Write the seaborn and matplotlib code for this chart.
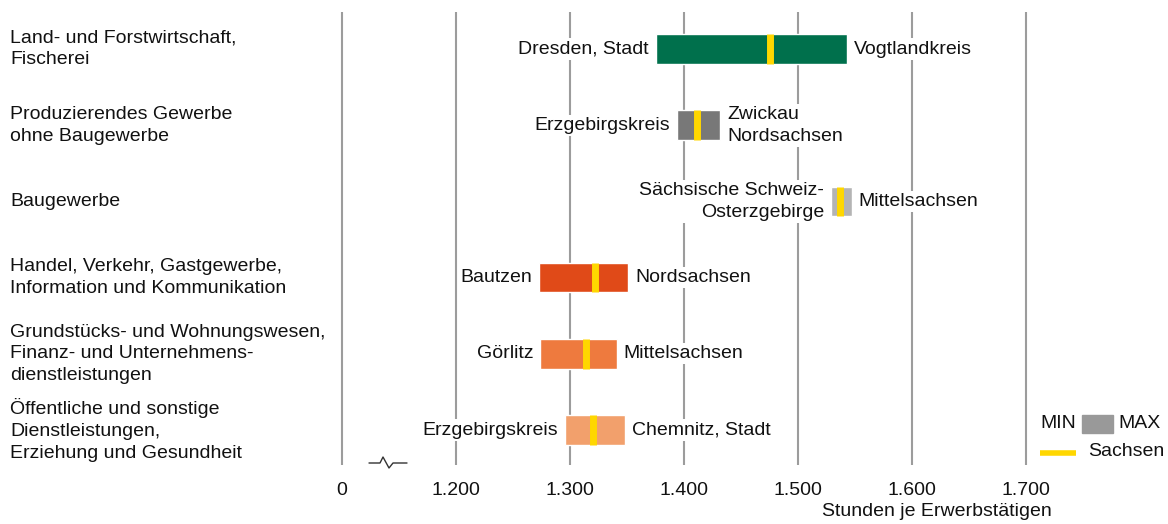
import matplotlib
matplotlib.use("Agg")
import matplotlib.pyplot as plt
import matplotlib.transforms as mtransforms
from matplotlib.patches import Rectangle
from matplotlib.lines import Line2D
import seaborn as sns

# data (Stunden je Erwerbstätigen)
categories = [
    "Land- und Forstwirtschaft,\nFischerei",
    "Produzierendes Gewerbe\nohne Baugewerbe",
    "Baugewerbe",
    "Handel, Verkehr, Gastgewerbe,\nInformation und Kommunikation",
    "Grundstücks- und Wohnungswesen,\nFinanz- und Unternehmens-\ndienstleistungen",
    "Öffentliche und sonstige\nDienstleistungen,\nErziehung und Gesundheit",
]
min_values = [1375, 1394, 1529, 1273, 1274, 1296]
max_values = [1543, 1432, 1547, 1351, 1341, 1348]
sachsen_values = [1475, 1411, 1537, 1322, 1314, 1320]
min_labels = ["Dresden, Stadt", "Erzgebirgskreis", "Sächsische Schweiz-\nOsterzgebirge",
              "Bautzen", "Görlitz", "Erzgebirgskreis"]
max_labels = ["Vogtlandkreis", "Zwickau\nNordsachsen", "Mittelsachsen",
              "Nordsachsen", "Mittelsachsen", "Chemnitz, Stadt"]
tick_values = [1100, 1200, 1300, 1400, 1500, 1600, 1700]
tick_labels = ["0", "1.200", "1.300", "1.400", "1.500", "1.600", "1.700"]

bar_colors = ["#00704C", "#787878", "#B4B4B4", "#E04A18", "#EE7A3E", "#F2A06C"]
yellow = "#FFD700"
grid_gray = "#9C9C9C"
text_color = "#111111"

sns.set_theme(style="white")
plt.rcParams["font.family"] = ["Liberation Sans", "DejaVu Sans"]
plt.rcParams["font.size"] = 14

W, H = 1168, 524
fig = plt.figure(figsize=(W / 100, H / 100), dpi=100)
ax = fig.add_axes([300 / W, (H - 465) / H, 868 / W, 453 / H])

px_per_hour = 1.14
ax.set_xlim(1100 + (300 - 342) / px_per_hour, 1100 + (1168 - 342) / px_per_hour)
ax.set_ylim(5.459, -0.486)

# vertical grid lines
for v in tick_values:
    ax.axvline(v, color=grid_gray, lw=1.5, zorder=0)

rows = list(range(len(categories)))
widths = [mx - mn for mn, mx in zip(min_values, max_values)]
ax.barh(rows, widths, left=min_values, height=0.39, color=bar_colors, zorder=2)
ax.vlines(sachsen_values, [r - 0.195 for r in rows], [r + 0.195 for r in rows],
          color=yellow, lw=5, zorder=3, capstyle="butt")

box = dict(fc="white", ec="none", pad=1.5)
for r, mn, mx, lo, hi in zip(rows, min_values, max_values, min_labels, max_labels):
    ax.annotate(lo, (mn, r), xytext=(-5, 0), textcoords="offset points",
                ha="right", va="center", multialignment="right", bbox=box,
                linespacing=1.35, color=text_color, zorder=4)
    ax.annotate(hi, (mx, r), xytext=(5, 0), textcoords="offset points",
                ha="left", va="center", multialignment="left", bbox=box,
                linespacing=1.35, color=text_color, zorder=4)

# category labels on the left
trans = mtransforms.blended_transform_factory(fig.transFigure, ax.transData)
for r, cat in zip(rows, categories):
    ax.text(10 / W, r, cat, transform=trans, ha="left", va="center",
            linespacing=1.36, color=text_color)

ax.set_xticks(tick_values)
ax.set_xticklabels(tick_labels)
ax.tick_params(axis="x", length=0, pad=12, labelsize=14, labelcolor=text_color)
ax.set_yticks([])
sns.despine(ax=ax, left=True, bottom=True)

fig.text(1052 / W, 1 - 512 / H, "Stunden je Erwerbstätigen", ha="right", va="center",
         fontsize=14, color=text_color)

# axis break symbol
bx = [369, 380, 383, 389, 393, 407]
by = [463, 463, 457, 468, 463, 463]
fig.add_artist(Line2D([x / W for x in bx], [1 - y / H for y in by],
                      transform=fig.transFigure, color="#333333", lw=1))

# legend
fig.text(1076 / W, 1 - 424 / H, "MIN", ha="right", va="center", fontsize=14, color=text_color)
fig.add_artist(Rectangle((1082 / W, 1 - 433 / H), 31 / W, 18 / H,
                         transform=fig.transFigure, color="#999999"))
fig.text(1118 / W, 1 - 424 / H, "MAX", ha="left", va="center", fontsize=14, color=text_color)
fig.add_artist(Line2D([1040 / W, 1076 / W], [1 - 453 / H, 1 - 453 / H],
                      transform=fig.transFigure, color=yellow, lw=4, solid_capstyle="butt"))
fig.text(1088 / W, 1 - 452 / H, "Sachsen", ha="left", va="center", fontsize=14, color=text_color)

fig.savefig("out.png", dpi=100, facecolor="white")
